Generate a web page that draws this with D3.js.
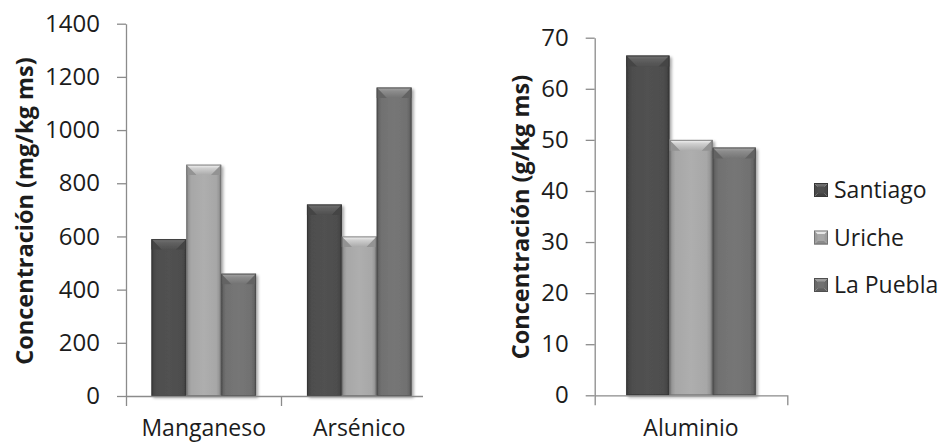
<!DOCTYPE html>
<html>
<head>
<meta charset="utf-8">
<script src="https://cdn.jsdelivr.net/npm/d3@7"></script>
<style>
  body { margin: 0; background: #fff; }
  text { font-family: "Open Sans", sans-serif; fill: #1c1c1c; }
</style>
</head>
<body>
<svg id="chart" width="941" height="442"></svg>
<script>
// Element groups shown on each panel
const traceElements = ["Manganeso", "Arsénico"];
const majorElements = ["Aluminio"];
const sites = ["Santiago", "Uriche", "La Puebla"];

// Concentrations, mg/kg dry matter (left panel)
const santiagoTrace = [590, 720];
const uricheTrace = [870, 600];
const pueblaTrace = [460, 1160];

// Concentrations, g/kg dry matter (right panel)
const santiagoMajor = [66.5];
const uricheMajor = [50];
const pueblaMajor = [48.5];

// Axis ticks
const traceTicks = [0, 200, 400, 600, 800, 1000, 1200, 1400];
const majorTicks = [0, 10, 20, 30, 40, 50, 60, 70];

const siteColors = ["#4e4e4e", "#a7a7a7", "#717171"];
const axisColor = "#8b8b8b";

const svg = d3.select("#chart");
const defs = svg.append("defs");

// Soft drop shadow under each bar
const shadow = defs.append("filter").attr("id", "barShadow")
  .attr("x", "-30%").attr("y", "-10%").attr("width", "160%").attr("height", "130%");
shadow.append("feGaussianBlur").attr("in", "SourceAlpha").attr("stdDeviation", 1.8).attr("result", "blur");
shadow.append("feOffset").attr("in", "blur").attr("dx", 2).attr("dy", 1.5).attr("result", "off");
shadow.append("feComponentTransfer").attr("in", "off").attr("result", "soft")
  .append("feFuncA").attr("type", "linear").attr("slope", 0.35);
const merge = shadow.append("feMerge");
merge.append("feMergeNode").attr("in", "soft");
merge.append("feMergeNode").attr("in", "SourceGraphic");

// Per-site gradients: bevelled body and lit top facet
siteColors.forEach((c, i) => {
  const base = d3.color(c);
  const body = defs.append("linearGradient").attr("id", "body" + i)
    .attr("x1", 0).attr("x2", 1).attr("y1", 0).attr("y2", 0);
  [[0, base.darker(0.9)], [0.07, base.darker(0.25)], [0.14, base], [0.5, base.brighter(0.12)],
   [0.86, base], [0.93, base.darker(0.25)], [1, base.darker(0.9)]]
    .forEach(([o, col]) => body.append("stop").attr("offset", o).attr("stop-color", col));
  const topG = defs.append("linearGradient").attr("id", "top" + i)
    .attr("x1", 0).attr("x2", 0).attr("y1", 0).attr("y2", 1);
  [[0, base.brighter(1.1)], [0.35, base.brighter(0.6)], [1, base.brighter(0.05)]]
    .forEach(([o, col]) => topG.append("stop").attr("offset", o).attr("stop-color", col));
});

function drawBar(g, x, y, w, h, i) {
  const c = d3.color(siteColors[i]);
  const bar = g.append("g").attr("filter", "url(#barShadow)");
  bar.append("rect").attr("x", x).attr("y", y).attr("width", w).attr("height", h)
    .attr("fill", `url(#body${i})`);
  const b = Math.min(11, w * 0.3, h);
  // side facets of the bevel
  bar.append("path")
    .attr("d", `M${x},${y}L${x + b},${y + b}L${x},${y + b}Z`)
    .attr("fill", c.darker(0.35));
  bar.append("path")
    .attr("d", `M${x + w},${y}L${x + w - b},${y + b}L${x + w},${y + b}Z`)
    .attr("fill", c.darker(0.35));
  // top facet
  bar.append("path")
    .attr("d", `M${x},${y}L${x + w},${y}L${x + w - b},${y + b}L${x + b},${y + b}Z`)
    .attr("fill", `url(#top${i})`);
  bar.append("rect").attr("x", x + 0.5).attr("y", y + 0.5).attr("width", w - 1).attr("height", h - 1)
    .attr("fill", "none").attr("stroke", c.darker(1.2)).attr("stroke-width", 1).attr("stroke-opacity", 0.8);
}

function drawPanel(o) {
  const root = svg.append("g");
  if (o.clipRight) {
    const id = "clip" + o.name;
    defs.append("clipPath").attr("id", id).append("rect")
      .attr("x", 0).attr("y", 0).attr("width", o.clipRight).attr("height", 442);
    root.attr("clip-path", `url(#${id})`);
  }
  const x0 = d3.scaleBand().domain(o.categories).range([o.left, o.right]);
  const x1 = d3.scaleBand().domain(sites).range([0, x0.bandwidth()]).paddingOuter(0.73);
  const y = d3.scaleLinear().domain([0, o.max]).range([o.bottom, o.top]);

  // bars
  const bars = root.append("g");
  o.categories.forEach((cat, ci) => {
    o.series.forEach((vals, si) => {
      const v = vals[ci];
      drawBar(bars, x0(cat) + x1(sites[si]), y(v), x1.bandwidth(), y(0) - y(v), si);
    });
  });

  // y axis
  const ya = root.append("g").attr("transform", `translate(${o.left},0)`)
    .call(d3.axisLeft(y).tickValues(o.ticks).tickFormat(d3.format("d"))
      .tickSize(9).tickSizeOuter(0).tickPadding(17));
  ya.attr("font-family", null).attr("font-size", null);
  ya.selectAll("path,line").attr("stroke", axisColor).attr("stroke-width", 1.3);
  ya.selectAll("text").style("font-size", "24px");

  // x axis with category labels and boundary ticks
  const xa = root.append("g").attr("transform", `translate(0,${o.bottom})`)
    .call(d3.axisBottom(x0).tickSize(0).tickSizeOuter(10).tickPadding(24));
  xa.attr("font-family", null).attr("font-size", null);
  xa.selectAll("path").attr("stroke", axisColor).attr("stroke-width", 1.3);
  xa.selectAll("text").style("font-size", "23px");
  xa.selectAll(".boundary").data(o.categories.slice(1)).join("line")
    .attr("x1", d => x0(d)).attr("x2", d => x0(d)).attr("y1", 0).attr("y2", 10)
    .attr("stroke", axisColor).attr("stroke-width", 1.3);

  // axis title
  root.append("text")
    .attr("transform", `translate(${o.titleX},${o.titleY}) rotate(-90)`)
    .attr("text-anchor", "middle").attr("dy", "0.35em")
    .style("font-size", "23.5px").style("font-weight", "700")
    .text(o.title);
}

drawPanel({
  name: "trace", categories: traceElements, series: [santiagoTrace, uricheTrace, pueblaTrace],
  ticks: traceTicks, max: 1400, left: 126, right: 437, top: 23.7, bottom: 396,
  clipRight: 423, title: "Concentración (mg/kg ms)", titleX: 25, titleY: 211
});

drawPanel({
  name: "major", categories: majorElements, series: [santiagoMajor, uricheMajor, pueblaMajor],
  ticks: majorTicks, max: 70, left: 594.7, right: 787.3, top: 37.7, bottom: 395.3,
  title: "Concentración (g/kg ms)", titleX: 521, titleY: 217
});

// legend
const legend = svg.append("g").attr("transform", "translate(814,0)");
const rowY = d3.scalePoint().domain(sites).range([190, 285]);
sites.forEach((s, i) => {
  const cy = rowY(s), sz = 14, c = d3.color(siteColors[i]);
  const g = legend.append("g").attr("transform", `translate(0,${cy - sz / 2})`);
  const m = sz / 2;
  g.append("path").attr("d", `M0,0L${sz},0L${m},${m}Z`).attr("fill", c.brighter(0.9));
  g.append("path").attr("d", `M0,0L${m},${m}L0,${sz}Z`).attr("fill", c.darker(0.2));
  g.append("path").attr("d", `M${sz},0L${m},${m}L${sz},${sz}Z`).attr("fill", c.darker(0.2));
  g.append("path").attr("d", `M0,${sz}L${m},${m}L${sz},${sz}Z`).attr("fill", c.darker(0.5));
  g.append("rect").attr("x", 3.5).attr("y", 3.5).attr("width", sz - 7).attr("height", sz - 7).attr("fill", c);
  g.append("rect").attr("x", 0.5).attr("y", 0.5).attr("width", sz - 1).attr("height", sz - 1)
    .attr("fill", "none").attr("stroke", c.darker(1)).attr("stroke-width", 1);
  legend.append("text").attr("x", 20).attr("y", cy).attr("dy", "0.35em")
    .style("font-size", "23px").text(s);
});
</script>
</body>
</html>
